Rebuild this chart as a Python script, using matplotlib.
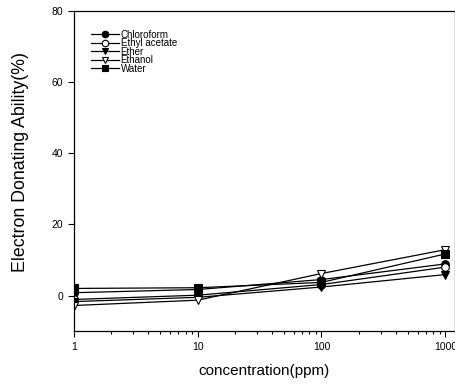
import matplotlib
matplotlib.use('Agg')
import matplotlib.pyplot as plt
from matplotlib.ticker import LogLocator, NullFormatter, FixedLocator, FixedFormatter

plt.rcParams['font.family'] = ['Liberation Sans', 'DejaVu Sans']

# concentration (ppm)
conc = [1, 10, 100, 1000]

# electron donating ability (%) per solvent fraction
chloroform = [0.8, 1.7, 4.5, 8.9]
ethyl_acetate = [-1.1, 0.1, 3.1, 8.0]
ether = [-1.7, -0.5, 2.4, 5.9]
ethanol = [-2.8, -1.3, 6.2, 12.9]
water = [2.0, 2.2, 3.7, 11.7]

series = [
  ('Chloroform', chloroform, 'o', 'black'),
  ('Ethyl acetate', ethyl_acetate, 'o', 'white'),
  ('Ether', ether, 'v', 'black'),
  ('Ethanol', ethanol, 'v', 'white'),
  ('Water', water, 's', 'black'),
]

x_ticks = [1, 10, 100, 1000]
y_ticks = [0, 20, 40, 60, 80]


def main():
  fig = plt.figure(figsize=(4.56, 3.85), dpi=100)
  ax = fig.add_axes([0.162, 0.140, 0.836, 0.831])

  for name, vals, marker, face in series:
    ax.plot(conc, vals, color='black', linewidth=0.9, marker=marker,
            markersize=5.5, markerfacecolor=face, markeredgecolor='black',
            markeredgewidth=0.8, label=name)

  ax.set_xscale('log')
  ax.set_xlim(1, 1200)
  ax.set_ylim(-10, 80)

  ax.xaxis.set_major_locator(FixedLocator(x_ticks))
  ax.xaxis.set_major_formatter(FixedFormatter([str(t) for t in x_ticks]))
  ax.xaxis.set_minor_locator(LogLocator(base=10, subs=range(2, 10)))
  ax.xaxis.set_minor_formatter(NullFormatter())
  ax.set_yticks(y_ticks)

  ax.tick_params(axis='both', which='major', direction='out', length=4,
                 width=0.8, labelsize=7.5, top=False, right=False)
  ax.tick_params(axis='x', which='minor', direction='out', length=2.5,
                 width=0.8, top=False)
  ax.tick_params(axis='x', pad=3.5)

  for s in ax.spines.values():
    s.set_linewidth(0.9)

  ax.set_xlabel('concentration(ppm)', fontsize=11, labelpad=9)
  ax.set_ylabel('Electron Donating Ability(%)', fontsize=12.8)
  ax.yaxis.set_label_coords(-0.118, 0.527)

  ax.legend(loc='upper left', frameon=False, fontsize=7, handlelength=2.9,
            handletextpad=0.15, labelspacing=-0.15, borderaxespad=0.0,
            borderpad=0.0, markerscale=0.85, bbox_to_anchor=(0.045, 0.942))

  fig.savefig('out.png', dpi=100)


main()
